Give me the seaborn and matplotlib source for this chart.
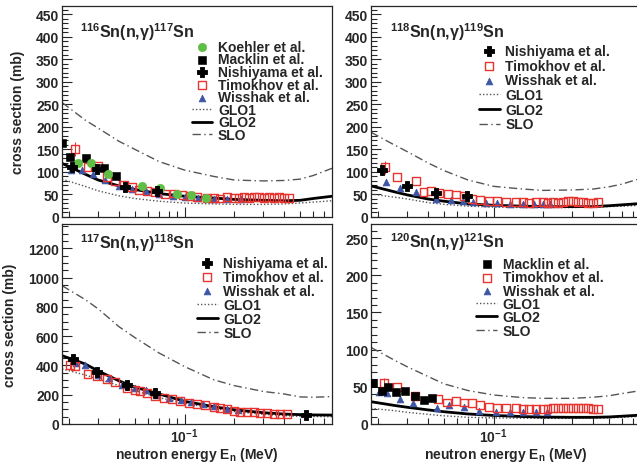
import numpy as np
import pandas as pd
import seaborn as sns
import matplotlib.pyplot as plt
from matplotlib.ticker import MultipleLocator, NullFormatter

# common energy grids (MeV)
e_curve = [0.0181, 0.025, 0.03, 0.04, 0.05, 0.07, 0.1, 0.15, 0.2, 0.3, 0.4, 0.5, 0.6, 0.78]
e_timo_tail = [0.119, 0.137, 0.150, 0.164, 0.181, 0.198, 0.212, 0.228, 0.244, 0.262,
               0.281, 0.301, 0.323, 0.346, 0.371, 0.398, 0.427]

# ---- 116Sn(n,g)117Sn ----
glo1_116 = [84, 68, 58, 47, 41, 35, 31, 29, 28, 28, 29, 31, 33, 36]
glo2_116 = [119, 95, 82, 69, 61, 52, 46, 42, 39, 37, 36, 37, 41, 46]
slo_116 = [254, 215, 197, 168, 150, 123, 104, 90, 82, 80, 81, 84, 92, 108]
e116_koehler = [0.0227, 0.0271, 0.0346, 0.0551, 0.0705, 0.0897, 0.109, 0.134]
s116_koehler = [120, 120, 95, 68, 64, 51, 49, 43]
e116_macklin = [0.0182, 0.0203, 0.0254, 0.0326, 0.0385]
s116_macklin = [164, 134, 130, 108, 90]
e116_nishi = [0.0208, 0.0294, 0.0435, 0.0683]
s116_nishi = [112, 106, 67, 57]
e116_timo = [0.0218, 0.0258, 0.030, 0.034, 0.038, 0.043, 0.048, 0.053, 0.059, 0.066,
             0.076, 0.086, 0.097, 0.108] + e_timo_tail
s116_timo = [151, 110, 114, 88, 80, 72, 66, 60, 57, 55, 51, 52, 48, 46,
             44, 42, 43, 41, 44, 43, 42, 44, 43, 44, 45, 43, 44, 43, 44, 43, 43]
e116_wiss = [0.0204, 0.024, 0.028, 0.033, 0.040, 0.048, 0.058, 0.070, 0.085, 0.100, 0.120, 0.150, 0.180, 0.220]
s116_wiss = [105, 104, 95, 83, 68, 62, 57, 52, 47, 44, 42, 40, 40, 39]

# ---- 118Sn(n,g)119Sn ----
glo1_118 = [51, 44, 40, 32, 28, 24, 22, 21, 21, 21, 22, 23, 24, 26]
glo2_118 = [69, 56, 49, 40, 35, 29, 26, 24, 23, 23, 23, 25, 27, 30]
slo_118 = [188, 160, 145, 120, 103, 82, 68, 62, 59, 60, 62, 67, 73, 86]
e118_nishi = [0.0210, 0.0301, 0.0446, 0.0687]
s118_nishi = [105, 69, 53, 46]
e118_timo = [0.0221, 0.0259, 0.0339, 0.0376, 0.042, 0.047, 0.053, 0.059, 0.066, 0.074,
             0.083, 0.094, 0.105] + e_timo_tail
s118_timo = [110, 89, 80, 55, 57, 53, 51, 50, 46, 40, 38, 36, 35,
             33, 34, 33, 32, 33, 33, 32, 33, 32, 34, 35, 35, 34, 33, 32, 32, 33]
e118_wiss = [0.0224, 0.0272, 0.034, 0.045, 0.055, 0.065, 0.075, 0.09, 0.105, 0.125, 0.15, 0.175, 0.2, 0.22]
s118_wiss = [77, 64, 56, 40, 37, 35, 33, 31, 30, 29, 28, 28, 28, 28]

# ---- 117Sn(n,g)118Sn ----
glo1_117 = [376, 335, 307, 262, 228, 180, 142, 105, 85, 66, 57, 52, 51, 50]
glo2_117 = [467, 410, 362, 295, 252, 205, 155, 118, 97, 77, 68, 64, 62, 61]
slo_117 = [945, 850, 786, 665, 590, 485, 392, 302, 262, 222, 205, 185, 183, 187]
e117_nishi = [0.021, 0.0296, 0.0447, 0.066, 0.54]
s117_nishi = [444, 357, 269, 212, 61]
e117_timo = [0.0203, 0.0218, 0.0258, 0.0294, 0.0338, 0.038, 0.0448, 0.0502, 0.0539, 0.0592,
             0.0664, 0.0746, 0.0838, 0.0942, 0.1057, 0.1188, 0.1335, 0.1498, 0.1645, 0.1806,
             0.198, 0.2175, 0.2387, 0.262, 0.2875, 0.3157, 0.346, 0.38, 0.417]
s117_timo = [405, 398, 341, 330, 307, 285, 244, 234, 228, 212, 193, 178, 171, 159, 145,
             137, 128, 118, 110, 102, 91, 84, 80, 80, 75, 73, 68, 68, 68]
e117_wiss = [0.022, 0.025, 0.03, 0.035, 0.042, 0.05, 0.058, 0.068, 0.08, 0.095, 0.11, 0.13, 0.15, 0.18, 0.21]
s117_wiss = [420, 400, 335, 315, 265, 245, 230, 200, 180, 165, 150, 135, 120, 105, 95]

# ---- 120Sn(n,g)121Sn ----
glo1_120 = [21, 18, 15.7, 13, 11, 9, 8.2, 7.8, 7.6, 7.6, 7.8, 8.3, 9, 10.3]
glo2_120 = [30, 25, 22.5, 19, 16.5, 13.5, 11.5, 10, 9.3, 9, 9, 9.5, 10.5, 12]
slo_120 = [103, 86, 77, 64, 54, 45, 39, 35.5, 34.5, 34.5, 36, 38, 41, 45]
e120_macklin = [0.0185, 0.0212, 0.0231, 0.0256, 0.029, 0.0335, 0.038, 0.0424]
s120_macklin = [55, 44, 49.4, 42.6, 44.9, 37.2, 32.7, 35]
e120_timo = [0.0218, 0.0259, 0.0335, 0.0463, 0.052, 0.059, 0.066, 0.074, 0.083, 0.094,
             0.105] + e_timo_tail
s120_timo = [55, 50, 38, 34, 29, 31, 29, 28, 25, 23, 22,
             21, 21, 20, 20, 20, 20, 20, 21, 21, 22, 22, 21, 22, 21, 21, 20, 20]
e120_wiss = [0.0203, 0.0226, 0.0273, 0.0325, 0.0454, 0.054, 0.066, 0.082, 0.104, 0.125, 0.15, 0.18, 0.21]
s120_wiss = [42.6, 41.7, 33.6, 27.8, 21, 25.6, 22.4, 17.9, 16.6, 15.7, 15.7, 15.5, 15.5]

# first Timokhov point of each panel carries a visible error bar
timo_err = {'116': 15, '118': 15, '117': 30, '120': 7}

sns.set_style("ticks")
plt.rcParams['font.family'] = ['Liberation Sans', 'DejaVu Sans']
plt.rcParams['font.weight'] = 'bold'
plt.rcParams['axes.labelweight'] = 'bold'
plt.rcParams['mathtext.fontset'] = 'custom'
plt.rcParams['mathtext.rm'] = 'Liberation Sans:bold'
plt.rcParams['mathtext.it'] = 'Liberation Sans:bold'
plt.rcParams['mathtext.default'] = 'regular'

GREEN = '#5fbf45'
RED = '#e8342f'
BLUE = '#3d55a5'

fig = plt.figure(figsize=(6.37, 4.64), dpi=100)
W = 637.0
H = 464.0
def add_ax(x0, y0, x1, y1):
    return fig.add_axes([x0 / W, 1 - y1 / H, (x1 - x0) / W, (y1 - y0) / H])

ax_tl = add_ax(62, 7, 332, 218)
ax_tr = add_ax(371, 7, 641, 218)
ax_bl = add_ax(62, 225, 332, 425)
ax_br = add_ax(371, 225, 641, 425)

order = ['Koehler et al.', 'Macklin et al.', 'Nishiyama et al.', 'Timokhov et al.',
         'Wisshak et al.', 'GLO1', 'GLO2', 'SLO']


def draw(ax, key, title, curves, sets, ylim, major, minor, leg_xy, leg_space):
    g1, g2, sl = curves
    sns.lineplot(x=e_curve, y=g1, ax=ax, color='#555555', lw=1.0, ls=(0, (1, 1.5)),
                 label='GLO1', estimator=None, sort=False)
    sns.lineplot(x=e_curve, y=g2, ax=ax, color='black', lw=2.0,
                 label='GLO2', estimator=None, sort=False)
    sns.lineplot(x=e_curve, y=sl, ax=ax, color='#555555', lw=1.0, ls=(0, (6, 2.5, 1, 2.5)),
                 label='SLO', estimator=None, sort=False)
    for kind, e, s in sets:
        if kind == 'wiss':
            sns.scatterplot(x=e, y=s, ax=ax, marker='^', s=24, color=BLUE, edgecolor=BLUE,
                            linewidth=0.5, label='Wisshak et al.', zorder=3)
        elif kind == 'timo':
            ax.errorbar(e[0], s[0], yerr=timo_err[key], color=RED, lw=0.8, capsize=0,
                        zorder=4)
            sns.scatterplot(x=e, y=s, ax=ax, marker='s', s=32, facecolor='none',
                            edgecolor=RED, linewidth=1.0, label='Timokhov et al.', zorder=4)
        elif kind == 'mack':
            sns.scatterplot(x=e, y=s, ax=ax, marker='s', s=28, color='black',
                            edgecolor='black', label='Macklin et al.', zorder=5)
        elif kind == 'koeh':
            sns.scatterplot(x=e, y=s, ax=ax, marker='o', s=36, color=GREEN,
                            edgecolor=GREEN, label='Koehler et al.', zorder=6)
        elif kind == 'nishi':
            sns.scatterplot(x=e, y=s, ax=ax, marker='P', s=60, color='black',
                            edgecolor='black', label='Nishiyama et al.', zorder=7)
    ax.set_xscale('log')
    ax.set_xlim(0.0181, 0.78)
    ax.set_ylim(*ylim)
    ax.yaxis.set_major_locator(MultipleLocator(major))
    ax.yaxis.set_minor_locator(MultipleLocator(minor))
    ax.xaxis.set_minor_formatter(NullFormatter())
    ax.tick_params(which='both', direction='in', top=False, right=False, labelsize=10,
                   width=0.8, pad=2)
    ax.tick_params(which='major', length=7)
    ax.tick_params(which='minor', length=4)
    for sp in ax.spines.values():
        sp.set_linewidth(0.9)
        sp.set_visible(True)
    ax.set_xlabel('')
    ax.set_ylabel('')
    ax.text(title[1], title[2], title[0], transform=ax.transAxes, fontsize=11.5,
            ha='left', va='baseline')
    h, l = ax.get_legend_handles_labels()
    hd = dict(zip(l, h))
    labs = [k for k in order if k in hd]
    ax.legend([hd[k] for k in labs], labs, loc='upper left', bbox_to_anchor=leg_xy,
              frameon=False, fontsize=10, handlelength=1.5, handletextpad=0.4,
              labelspacing=leg_space, borderpad=0, borderaxespad=0)


draw(ax_tl, '116', (r'$^{116}$Sn(n,$\gamma$)$^{117}$Sn', 0.067, 0.853),
     (glo1_116, glo2_116, slo_116),
     [('wiss', e116_wiss, s116_wiss), ('timo', e116_timo, s116_timo),
      ('mack', e116_macklin, s116_macklin), ('koeh', e116_koehler, s116_koehler),
      ('nishi', e116_nishi, s116_nishi)],
     (0, 468), 50, 10, (0.48, 0.84), -0.1)
draw(ax_tr, '118', (r'$^{118}$Sn(n,$\gamma$)$^{119}$Sn', 0.07, 0.853),
     (glo1_118, glo2_118, slo_118),
     [('wiss', e118_wiss, s118_wiss), ('timo', e118_timo, s118_timo),
      ('nishi', e118_nishi, s118_nishi)],
     (0, 468), 50, 10, (0.40, 0.82), 0.05)
draw(ax_bl, '117', (r'$^{117}$Sn(n,$\gamma$)$^{118}$Sn', 0.067, 0.88),
     (glo1_117, glo2_117, slo_117),
     [('wiss', e117_wiss, s117_wiss), ('timo', e117_timo, s117_timo),
      ('nishi', e117_nishi, s117_nishi)],
     (0, 1366), 200, 50, (0.50, 0.84), 0.0)
draw(ax_br, '120', (r'$^{120}$Sn(n,$\gamma$)$^{121}$Sn', 0.07, 0.883),
     (glo1_120, glo2_120, slo_120),
     [('wiss', e120_wiss, s120_wiss), ('timo', e120_timo, s120_timo),
      ('mack', e120_macklin, s120_macklin)],
     (0, 269), 50, 10, (0.39, 0.835), -0.05)

for ax in (ax_tl, ax_tr):
    ax.tick_params(labelbottom=False)
for ax in (ax_bl, ax_br):
    ax.set_xlabel(r'neutron energy E$_{n}$ (MeV)', fontsize=10, labelpad=0,
                  fontweight='bold')
for ax in (ax_tl, ax_bl):
    ax.set_ylabel('cross section (mb)', fontsize=10, labelpad=8, fontweight='bold')

fig.savefig('out.png', dpi=100)
